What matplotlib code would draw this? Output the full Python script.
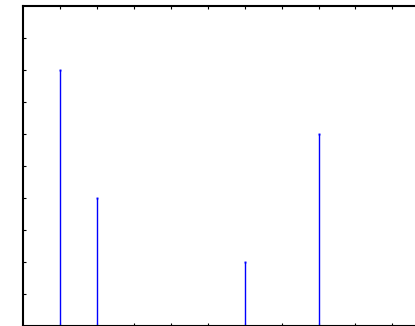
import matplotlib
matplotlib.use("Agg")
from matplotlib import pyplot as plt

# stem positions and heights
x_vals = [1, 2, 6, 8]
y_vals = [8, 4, 2, 6]

fig = plt.figure(figsize=(4.15, 3.26), dpi=100)
# axes run off the right edge of the canvas
ax = fig.add_axes([23.07 / 415, -0.04 / 326, 11 * 36.93 / 415, 320.4 / 326])

ax.vlines(x_vals, 0, y_vals, colors="#0000ff", linewidth=1.0)
ax.plot(x_vals, y_vals, linestyle="none", marker="s", markersize=1.4,
        color="#0000ff", markeredgewidth=0)

ax.set_xlim(0, 11)
ax.set_ylim(0, 10)
ax.set_xticks(range(1, 11))
ax.set_yticks(range(1, 10))
ax.tick_params(direction="in", length=2.5, width=0.8, top=True, right=True,
               labelbottom=False, labelleft=False)
for side in ax.spines.values():
    side.set_linewidth(1.5)

fig.savefig("out.png", dpi=100)
